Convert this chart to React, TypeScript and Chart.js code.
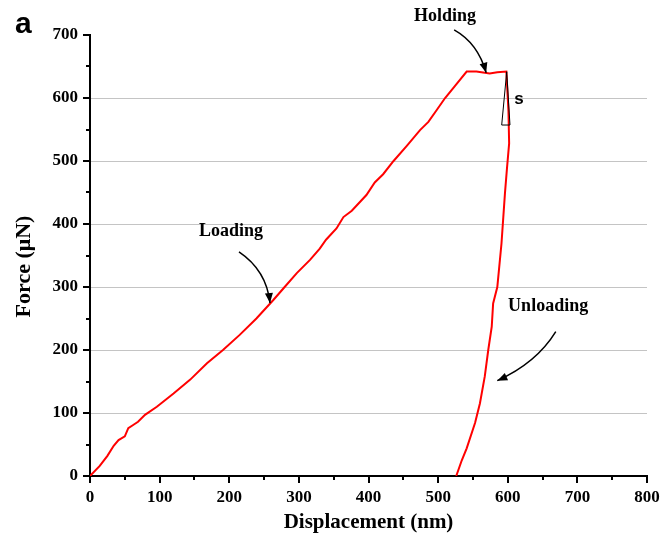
import React, { useEffect, useRef } from 'react';
import { Chart, registerables } from 'chart.js';

Chart.register(...registerables);

// ---- Data (displacement in nm, force in µN) ----
const loadDisp = [0, 14, 25, 34, 41, 50, 55, 62, 69, 79, 96, 120, 144, 168, 191, 215, 239, 263, 278, 297, 316, 330, 339, 354, 364, 376, 397, 409, 421, 436, 455, 474, 486, 498, 510, 524, 541];
const loadForce = [0, 16, 32, 48, 57, 63, 76, 81, 86, 97, 110, 131, 153, 179, 200, 224, 250, 279, 298, 322, 343, 361, 375, 393, 411, 421, 446, 466, 479, 500, 524, 549, 562, 581, 600, 619, 642];
const holdDisp = [555, 567, 574, 585, 598];
const holdForce = [642, 640, 639, 641, 642];
const unloadDisp = [601, 602, 599, 596, 591, 585, 579, 577, 572, 567, 560, 553, 541, 534, 526];
const unloadForce = [580, 528, 490, 449, 369, 300, 274, 237, 200, 158, 115, 84, 44, 25, 0];

const xTickMax = 800;
const yTickMax = 700;
const tickStep = 100;

const xTitle = 'Displacement (nm)';
const yTitle = 'Force (\u03bcN)';
const panelLabel = 'a';

// annotation anchors in data coordinates
const annotations = [
  { text: 'Holding', at: [510, 722], arrow: [[523, 708], [557, 687], [569, 640]] },
  { text: 'Loading', at: [202.5, 381], arrow: [[214, 355.6], [253.5, 326.2], [258.5, 274.6]] },
  { text: 'Unloading', at: [658, 262], arrow: [[669, 229], [641, 179], [585, 151.3]] },
];
const slopeTriangle = [[598.5, 641.7], [591.3, 557.1], [603.2, 557.1]];
const slopeLabel = { text: 's', at: [616.2, 590.5] };

const outerTicks = {
  id: 'outerTicks',
  afterDraw(chart: any) {
    const { ctx } = chart;
    const xs = chart.scales.x;
    const ys = chart.scales.y;
    const area = chart.chartArea;
    ctx.save();
    ctx.strokeStyle = '#000';
    ctx.lineWidth = 2;
    for (let v = 0; v <= xTickMax; v += tickStep / 2) {
      const px = Math.round(xs.getPixelForValue(v));
      const len = v % tickStep === 0 ? 7 : 4;
      ctx.beginPath();
      ctx.moveTo(px, area.bottom);
      ctx.lineTo(px, area.bottom + len);
      ctx.stroke();
    }
    for (let v = 0; v <= yTickMax; v += tickStep / 2) {
      const py = Math.round(ys.getPixelForValue(v));
      const len = v % tickStep === 0 ? 7 : 4;
      ctx.beginPath();
      ctx.moveTo(area.left, py);
      ctx.lineTo(area.left - len, py);
      ctx.stroke();
    }
    ctx.restore();
  },
};

const annotationPlugin = {
  id: 'annots',
  afterDatasetsDraw(chart: any) {
    const { ctx } = chart;
    const xs = chart.scales.x;
    const ys = chart.scales.y;
    const P = (p: number[]) => [xs.getPixelForValue(p[0]), ys.getPixelForValue(p[1])];
    ctx.save();
    ctx.fillStyle = '#000';
    ctx.strokeStyle = '#000';
    ctx.font = 'bold 18px "Liberation Serif"';
    ctx.textAlign = 'center';
    ctx.textBaseline = 'alphabetic';
    for (const a of annotations) {
      const [tx, ty] = P(a.at);
      ctx.fillText(a.text, tx, ty);
      const [p0, c, p2] = a.arrow.map(P);
      ctx.lineWidth = 1.5;
      ctx.beginPath();
      ctx.moveTo(p0[0], p0[1]);
      ctx.quadraticCurveTo(c[0], c[1], p2[0], p2[1]);
      ctx.stroke();
      const ang = Math.atan2(p2[1] - c[1], p2[0] - c[0]);
      const L = 10, W = 4;
      const bx = p2[0] - L * Math.cos(ang);
      const by = p2[1] - L * Math.sin(ang);
      ctx.beginPath();
      ctx.moveTo(p2[0], p2[1]);
      ctx.lineTo(bx + W * Math.sin(ang), by - W * Math.cos(ang));
      ctx.lineTo(bx - W * Math.sin(ang), by + W * Math.cos(ang));
      ctx.closePath();
      ctx.fill();
    }
    // slope triangle
    const tri = slopeTriangle.map(P);
    ctx.lineWidth = 1;
    ctx.beginPath();
    ctx.moveTo(tri[0][0], tri[0][1]);
    ctx.lineTo(tri[1][0], tri[1][1]);
    ctx.lineTo(tri[2][0], tri[2][1]);
    ctx.closePath();
    ctx.stroke();
    const [sx, sy] = P(slopeLabel.at);
    ctx.font = 'bold 17px "Liberation Sans"';
    ctx.fillText(slopeLabel.text, sx, sy);
    // panel label
    ctx.textAlign = 'left';
    ctx.font = 'bold 30px "Liberation Sans"';
    ctx.fillText(panelLabel, 15, 33);
    ctx.restore();
  },
};

export default function App() {
  const ref = useRef<HTMLCanvasElement | null>(null);
  useEffect(() => {
    if (!ref.current) return;
    const pts = [
      ...loadDisp.map((x, i) => ({ x, y: loadForce[i] })),
      ...holdDisp.map((x, i) => ({ x, y: holdForce[i] })),
      ...unloadDisp.map((x, i) => ({ x, y: unloadForce[i] })),
    ];
    const chart = new Chart(ref.current, {
      type: 'scatter',
      data: {
        datasets: [
          {
            data: pts,
            showLine: true,
            borderColor: '#ff0000',
            backgroundColor: '#ff0000',
            borderWidth: 2,
            pointRadius: 0,
            tension: 0,
          },
        ],
      },
      options: {
        animation: false,
        responsive: false,
        devicePixelRatio: 1,
        layout: { padding: { top: 35, right: 25, left: 0, bottom: 0 } },
        plugins: { legend: { display: false }, tooltip: { enabled: false } },
        scales: {
          x: {
            type: 'linear',
            min: 0,
            max: xTickMax,
            afterFit: (s: any) => { s.height = 61; },
            ticks: {
              stepSize: tickStep,
              padding: 11,
              color: '#000',
              font: { family: '"Liberation Serif"', size: 17, weight: 'bold' },
            },
            grid: { display: false, drawTicks: false },
            border: { display: true, color: '#000', width: 2 },
            title: {
              display: true,
              text: xTitle,
              color: '#000',
              font: { family: '"Liberation Serif"', size: 21, weight: 'bold' },
              padding: { top: 0, bottom: 2 },
            },
          },
          y: {
            type: 'linear',
            min: 0,
            max: yTickMax,
            afterFit: (s: any) => { s.width = 90; },
            ticks: {
              stepSize: tickStep,
              padding: 12,
              color: '#000',
              font: { family: '"Liberation Serif"', size: 17, weight: 'bold' },
            },
            grid: {
              drawTicks: false,
              lineWidth: 1,
              color: (c: any) =>
                c.tick && (c.tick.value === 0 || c.tick.value === yTickMax) ? 'rgba(0,0,0,0)' : '#c4c4c4',
            },
            border: { display: true, color: '#000', width: 2 },
            title: {
              display: true,
              text: yTitle + '    ',
              color: '#000',
              font: { family: '"Liberation Serif"', size: 22, weight: 'bold' },
              padding: { top: 11, bottom: 0 },
            },
          },
        },
      },
      plugins: [outerTicks, annotationPlugin],
    } as any);
    return () => chart.destroy();
  }, []);
  return (
    <div style={{ position: 'absolute', left: 0, top: 0, width: 672, height: 537, background: '#fff' }}>
      <canvas ref={ref} width={672} height={537} style={{ display: 'block' }} />
    </div>
  );
}
